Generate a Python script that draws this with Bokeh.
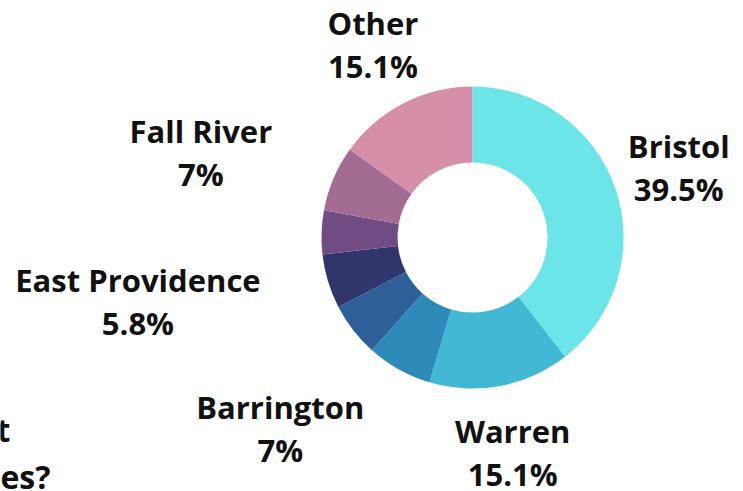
import math
from bokeh.plotting import figure
from bokeh.models import Range1d, ColumnDataSource
from bokeh.core.properties import value
from bokeh.embed import file_html
from bokeh.resources import INLINE

# ---- data ----
cities = ["Bristol", "Warren", "Barrington", "", "East Providence", "", "Fall River", "Other"]
shares = [39.5, 15.1, 7.0, 5.8, 5.8, 4.7, 7.0, 15.1]
pct_labels = ["39.5%", "15.1%", "7%", "", "5.8%", "", "7%", "15.1%"]
colors = ["#6be5e8", "#43b8d5", "#2e8bb9", "#2d5f98", "#30356c", "#714b84", "#a36c93", "#d68fa8"]
title_tail = ["t", "es?"]

# ---- layout (picture pixels, y measured downward; plotted as -y) ----
W, H = 743, 491
CX, CY = 472, 237
R_OUT, R_IN = 151, 75
LABEL_R = 218
label_shift = [0, 0, -86, 0, -126, 0, -71, 0]  # left-side labels are right-aligned blocks
TEXT_DY = -10
FONT = "Open Sans"

p = figure(width=W, height=H, output_backend="svg", toolbar_location=None,
           x_range=Range1d(0, W), y_range=Range1d(-H, 0),
           min_border=0, outline_line_color=None)
p.axis.visible = False
p.grid.visible = False
p.background_fill_color = "white"
p.border_fill_color = "white"

total = sum(shares)
starts, ends, mids = [], [], []
cum = 0.0
for s in shares:
    a0 = cum / total * 360.0
    cum += s
    a1 = cum / total * 360.0
    starts.append(math.radians(90 - a0))
    ends.append(math.radians(90 - a1))
    mids.append((a0 + a1) / 2)

src = ColumnDataSource(dict(start=starts, end=ends, color=colors))
p.annular_wedge(x=CX, y=-CY, inner_radius=R_IN, outer_radius=R_OUT,
                start_angle="start", end_angle="end", direction="clock",
                fill_color="color", line_color=None, source=src)

lx, ly1, ly2, t1, t2 = [], [], [], [], []
for name, pct, m, sh in zip(cities, pct_labels, mids, label_shift):
    if not name:
        continue
    th = math.radians(m)
    ax = CX + LABEL_R * math.sin(th) + sh
    ay = CY - LABEL_R * math.cos(th) + TEXT_DY
    lx.append(ax)
    ly1.append(-(ay - 11))
    ly2.append(-(ay + 32))
    t1.append(name)
    t2.append(pct)

for ys, ts in ((ly1, t1), (ly2, t2)):
    p.text(x=lx, y=ys, text=ts, text_font=value(FONT), text_font_style="bold",
           text_font_size="31px", text_align="center", text_baseline="alphabetic",
           text_color="#111111")

p.text(x=[10, 50], y=[-(439 + TEXT_DY), -(486 + TEXT_DY)], text=title_tail,
       text_font=value(FONT), text_font_style="bold", text_font_size="32px",
       text_align="right", text_baseline="alphabetic", text_color="#111111")

open("out.html", "w").write(file_html(p, INLINE))
